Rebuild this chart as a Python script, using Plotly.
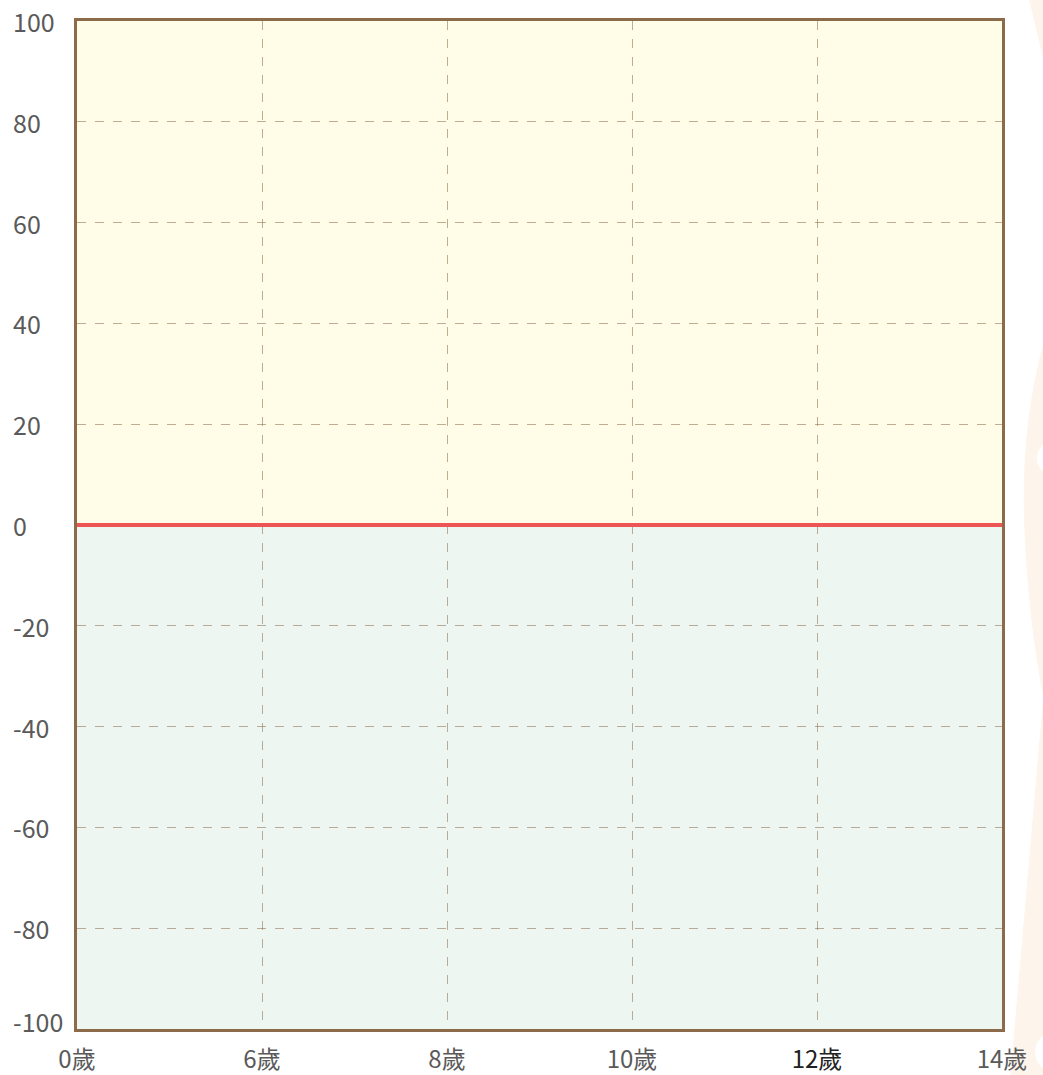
import plotly.graph_objects as go

# Data
x_labels = ["0歲", "6歲", "8歲", "10歲", "12歲", "14歲"]
highlight_label = "12歲"
y_ticks = [100, 80, 60, 40, 20, 0, -20, -40, -60, -80, -100]
baseline_value = 0
y_min, y_max = -100, 100

FONT = "Noto Sans CJK TC, Noto Sans CJK SC, sans-serif"
XSIZE = 24
YSIZE = 25
LABEL_COLOR = "#5a5a5a"
BORDER = "#8B6B4A"
GRID = "rgba(139,107,74,0.55)"
DECOR = "#FDF4EB"

W, H = 1043, 1075
ML, MR, MT, MB = 77, 41, 21, 46
PW, PH = W - ML - MR, H - MT - MB


def px(x):
    return (x - ML) / PW


def py(y):
    return 1 - (y - MT) / PH


x_pos = list(range(len(x_labels)))
ticktext = [
    f"<span style='color:#222222'>{t}</span>" if t == highlight_label else t
    for t in x_labels
]

fig = go.Figure()
fig.add_trace(go.Scatter(x=[x_pos[0], x_pos[-1]], y=[y_min, y_max], mode="markers",
                         marker=dict(opacity=0), hoverinfo="skip", showlegend=False))


def P(x, y):
    return f"{px(x):.5f} {py(y):.5f}"


shapes = [
    # decorative background shapes at the right edge
    dict(type="path", xref="paper", yref="paper", layer="below",
         path=f"M {P(1028, -5)} L {P(1050, -5)} L {P(1050, 60)} L {P(1043, 58)} Z",
         fillcolor=DECOR, line=dict(width=0)),
    dict(type="path", xref="paper", yref="paper", layer="below",
         path=(f"M {P(1043, 345)} C {P(1028, 400)} {P(1022, 460)} {P(1024, 520)} "
               f"C {P(1027, 600)} {P(1036, 660)} {P(1043, 695)} L {P(1050, 695)} L {P(1050, 345)} Z"),
         fillcolor=DECOR, line=dict(width=0)),
    dict(type="path", xref="paper", yref="paper", layer="below",
         path=f"M {P(1043, 700)} L {P(1010, 1080)} L {P(1050, 1080)} L {P(1050, 700)} Z",
         fillcolor=DECOR, line=dict(width=0)),
    dict(type="circle", xref="paper", yref="paper", layer="below",
         x0=px(1037), x1=px(1073), y0=py(440), y1=py(476),
         fillcolor="white", line=dict(width=0)),
    dict(type="circle", xref="paper", yref="paper", layer="below",
         x0=px(1035), x1=px(1075), y0=py(1032), y1=py(1072),
         fillcolor="white", line=dict(width=0)),
    # background bands
    dict(type="rect", xref="x", yref="y", x0=x_pos[0], x1=x_pos[-1], y0=baseline_value, y1=y_max,
         fillcolor="#FFFCE8", line=dict(width=0), layer="below"),
    dict(type="rect", xref="x", yref="y", x0=x_pos[0], x1=x_pos[-1], y0=y_min, y1=baseline_value,
         fillcolor="#EDF6F1", line=dict(width=0), layer="below"),
    # zero line
    dict(type="line", xref="x", yref="y", x0=x_pos[0], x1=x_pos[-1], y0=baseline_value, y1=baseline_value,
         line=dict(color="#EE5555", width=4)),
]

annotations = []
for v in y_ticks:
    shift = 8 if v == y_min else 0
    annotations.append(dict(xref="paper", yref="y", x=0, y=v, xanchor="left", yanchor="middle",
                            xshift=-66, yshift=shift,
                            text=str(v), showarrow=False,
                            font=dict(family=FONT, size=YSIZE, color=LABEL_COLOR)))

fig.update_layout(
    width=W, height=H,
    margin=dict(l=ML, r=MR, t=MT, b=MB, pad=0, autoexpand=False),
    paper_bgcolor="rgba(0,0,0,0)", plot_bgcolor="rgba(0,0,0,0)",
    shapes=shapes, annotations=annotations,
    showlegend=False,
    font=dict(family=FONT, size=XSIZE, color=LABEL_COLOR),
    xaxis=dict(range=[x_pos[0], x_pos[-1]], tickvals=x_pos, ticktext=ticktext,
               automargin=False,
               showgrid=True, gridcolor=GRID, griddash="dash", gridwidth=1,
               showline=True, linecolor=BORDER, linewidth=3, mirror=True,
               zeroline=False, ticks="", ticklabelstandoff=7,
               tickfont=dict(family=FONT, size=XSIZE, color=LABEL_COLOR)),
    yaxis=dict(range=[y_min, y_max], tickvals=y_ticks, showticklabels=False,
               automargin=False,
               showgrid=True, gridcolor=GRID, griddash="dash", gridwidth=1,
               showline=True, linecolor=BORDER, linewidth=3, mirror=True,
               zeroline=False, ticks=""),
)

fig.write_html(
    "out.html",
    config={"displayModeBar": False, "staticPlot": True},
    post_script=("document.documentElement.style.margin='0';"
                 "document.documentElement.style.overflow='hidden';"
                 "document.body.style.margin='0';"
                 "document.body.style.overflow='hidden';"
                 "document.body.style.background='white';"),
)
